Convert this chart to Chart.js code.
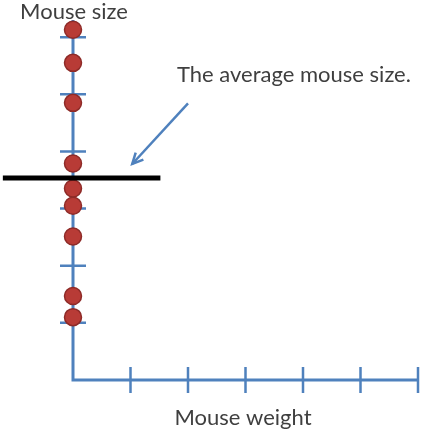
<!DOCTYPE html>
<html>
<head>
<meta charset="utf-8">
<script src="https://cdn.jsdelivr.net/npm/chart.js@4.4.1/dist/chart.umd.min.js"></script>
<style>
  html, body { margin: 0; padding: 0; background: #fff; }
  #wrap { width: 432px; height: 435px; }
</style>
</head>
<body>
<div id="wrap"><canvas id="mouseChart"></canvas></div>
<script>
// Mouse sizes, all measured at weight 0 (only the size is plotted)
const mouseSizes = [6.13, 5.55, 4.85, 3.79, 3.35, 3.05, 2.51, 1.47, 1.10];
const xTicks = [1, 2, 3, 4, 5, 6];
const yTicks = [1, 2, 3, 4, 5, 6];
const xLabel = 'Mouse weight';
const yLabel = 'Mouse size';
const noteText = 'The average mouse size.';

const avgSize = mouseSizes.reduce((a, b) => a + b, 0) / mouseSizes.length;

const axisBlue = '#4f81bd';
const textColor = '#3f3f3f';

// draws the blue axes with cross ticks, the titles and the arrow note
const axesPlugin = {
    id: 'axesPlugin',
    beforeDatasetsDraw(chart) {
        const c = chart.ctx;
        const xs = chart.scales.x, ys = chart.scales.y;
        const x0 = xs.getPixelForValue(0), y0 = ys.getPixelForValue(0);
        c.save();
        c.strokeStyle = axisBlue;
        c.lineWidth = 3;
        c.lineCap = 'butt';
        c.beginPath();
        c.moveTo(x0, ys.getPixelForValue(6.3));
        c.lineTo(x0, y0);
        c.lineTo(xs.getPixelForValue(6), y0);
        c.stroke();
        c.lineWidth = 2.5;
        c.beginPath();
        yTicks.forEach(v => {
            const py = ys.getPixelForValue(v);
            c.moveTo(x0 - 13, py);
            c.lineTo(x0 + 13, py);
        });
        xTicks.forEach(v => {
            const px = xs.getPixelForValue(v);
            c.moveTo(px, y0 - 13);
            c.lineTo(px, y0 + 13);
        });
        c.stroke();
        c.restore();
    },
    afterDatasetsDraw(chart) {
        const c = chart.ctx;
        const xs = chart.scales.x, ys = chart.scales.y;
        c.save();
        c.fillStyle = textColor;
        c.font = '22px Lato, "Open Sans", sans-serif';
        c.textBaseline = 'middle';
        c.textAlign = 'center';
        c.fillText(yLabel, 74, 12);
        c.fillText(xLabel, 243, 418);
        c.textAlign = 'left';
        c.fillText(noteText, 177, 75);

        // arrow pointing at the average line
        const sx = xs.getPixelForValue(2.0), sy = ys.getPixelForValue(4.84);
        const ex = xs.getPixelForValue(1.03), ey = ys.getPixelForValue(3.78);
        c.strokeStyle = axisBlue;
        c.lineWidth = 2.5;
        c.beginPath();
        c.moveTo(sx, sy);
        c.lineTo(ex, ey);
        c.stroke();
        const ang = Math.atan2(ey - sy, ex - sx);
        c.beginPath();
        c.moveTo(ex + 12 * Math.cos(ang - 0.45 + Math.PI), ey + 12 * Math.sin(ang - 0.45 + Math.PI));
        c.lineTo(ex, ey);
        c.lineTo(ex + 12 * Math.cos(ang + 0.45 + Math.PI), ey + 12 * Math.sin(ang + 0.45 + Math.PI));
        c.stroke();
        c.restore();
    }
};

const ctx = document.getElementById('mouseChart').getContext('2d');
const mouseChart = new Chart(ctx, {
    type: 'scatter',
    data: {
        datasets: [{
            label: 'Average',
            type: 'line',
            data: [{ x: -1.22, y: avgSize }, { x: 1.52, y: avgSize }],
            borderColor: '#000',
            borderWidth: 5,
            pointRadius: 0,
            order: 0,
            clip: false
        }, {
            label: 'Mice',
            data: mouseSizes.map(v => ({ x: 0, y: v })),
            backgroundColor: '#b83b36',
            borderColor: '#8e2b28',
            borderWidth: 1.5,
            pointRadius: 8.5,
            order: 1,
            clip: false
        }]
    },
    options: {
        responsive: true,
        maintainAspectRatio: false,
        animation: false,
        layout: { padding: { left: 73, right: 14, top: 20, bottom: 55 } },
        plugins: { legend: { display: false }, tooltip: { enabled: false } },
        scales: {
            x: { type: 'linear', min: 0, max: 6, display: false },
            y: { type: 'linear', min: 0, max: 6.3, display: false }
        }
    },
    plugins: [axesPlugin]
});
</script>
</body>
</html>
